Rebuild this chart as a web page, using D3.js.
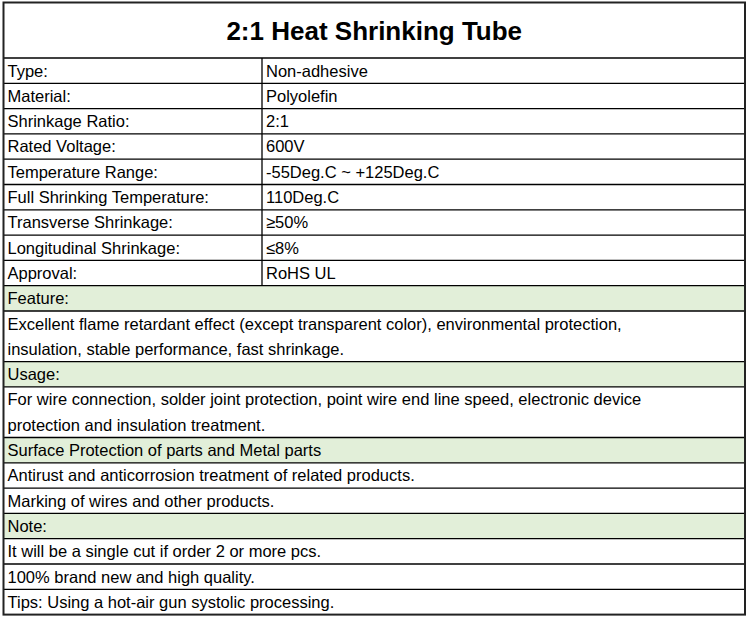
<!DOCTYPE html>
<html><head><meta charset="utf-8">
<script src="https://cdn.jsdelivr.net/npm/d3@7"></script>
<style>body{margin:0;background:#fff}</style>
</head><body><div id="chart"></div>
<script>
// Table content
const title = "2:1 Heat Shrinking Tube";
const specLabels = ["Type:", "Material:", "Shrinkage Ratio:", "Rated Voltage:", "Temperature Range:",
  "Full Shrinking Temperature:", "Transverse Shrinkage:", "Longitudinal Shrinkage:", "Approval:"];
const specValues = ["Non-adhesive", "Polyolefin", "2:1", "600V", "-55Deg.C ~ +125Deg.C",
  "110Deg.C", "\u226550%", "\u22648%", "RoHS UL"];
// [text lines, header?]
const notes = [
  [["Feature:"], true],
  [["Excellent flame retardant effect (except transparent color), environmental protection,", "insulation, stable performance, fast shrinkage."], false],
  [["Usage:"], true],
  [["For wire connection, solder joint protection, point wire end line speed, electronic device", "protection and insulation treatment."], false],
  [["Surface Protection of parts and Metal parts"], true],
  [["Antirust and anticorrosion treatment of related products."], false],
  [["Marking of wires and other products."], false],
  [["Note:"], true],
  [["It will be a single cut if order 2 or more pcs."], false],
  [["100% brand new and high quality."], false],
  [["Tips: Using a hot-air gun systolic processing."], false]
];

const width = 750, height = 617;
const tLeft = 3.5, tRight = 745, tTop = 2.5, titleBottom = 58, divider = 262;
const lineH = 25.3;

const svg = d3.select("#chart").append("svg").attr("width", width).attr("height", height)
  .style("font-family", "'Liberation Sans', Arial, sans-serif");

svg.append("text").attr("x", (tLeft + tRight) / 2).attr("y", 40).attr("text-anchor", "middle")
  .style("font-size", "26px").style("font-weight", "bold").text(title);

let y = titleBottom;
const rowLines = [];
specLabels.forEach((lab, i) => {
  svg.append("text").attr("x", tLeft + 4).attr("y", y + 18.5).style("font-size", "16.5px").text(lab);
  svg.append("text").attr("x", divider + 4).attr("y", y + 18.5).style("font-size", "16.5px").text(specValues[i]);
  svg.append("line").attr("x1", divider).attr("x2", divider).attr("y1", y).attr("y2", y + lineH)
    .attr("stroke", "#000").attr("stroke-width", 1.3);
  y += lineH;
  rowLines.push(y);
});
notes.forEach(([lines, head]) => {
  const h = lines.length * lineH;
  if (head) svg.insert("rect", ":first-child").attr("x", tLeft).attr("y", y).attr("width", tRight - tLeft).attr("height", h)
    .attr("fill", "#e2efd9");
  lines.forEach((t, j) => svg.append("text").attr("x", tLeft + 4).attr("y", y + 18.5 + j * lineH)
    .style("font-size", "16.5px").text(t));
  y += h;
  rowLines.push(y);
});

svg.append("line").attr("x1", tLeft).attr("x2", tRight).attr("y1", titleBottom).attr("y2", titleBottom)
  .attr("stroke", "#000").attr("stroke-width", 1.3);
svg.selectAll("line.row").data(rowLines.slice(0, -1)).join("line").attr("class", "row")
  .attr("x1", tLeft).attr("x2", tRight).attr("y1", d => d).attr("y2", d => d)
  .attr("stroke", "#000").attr("stroke-width", 1.3);
svg.append("rect").attr("x", tLeft).attr("y", tTop).attr("width", tRight - tLeft).attr("height", y - tTop)
  .attr("fill", "none").attr("stroke", "#222").attr("stroke-width", 2);
</script></body></html>
